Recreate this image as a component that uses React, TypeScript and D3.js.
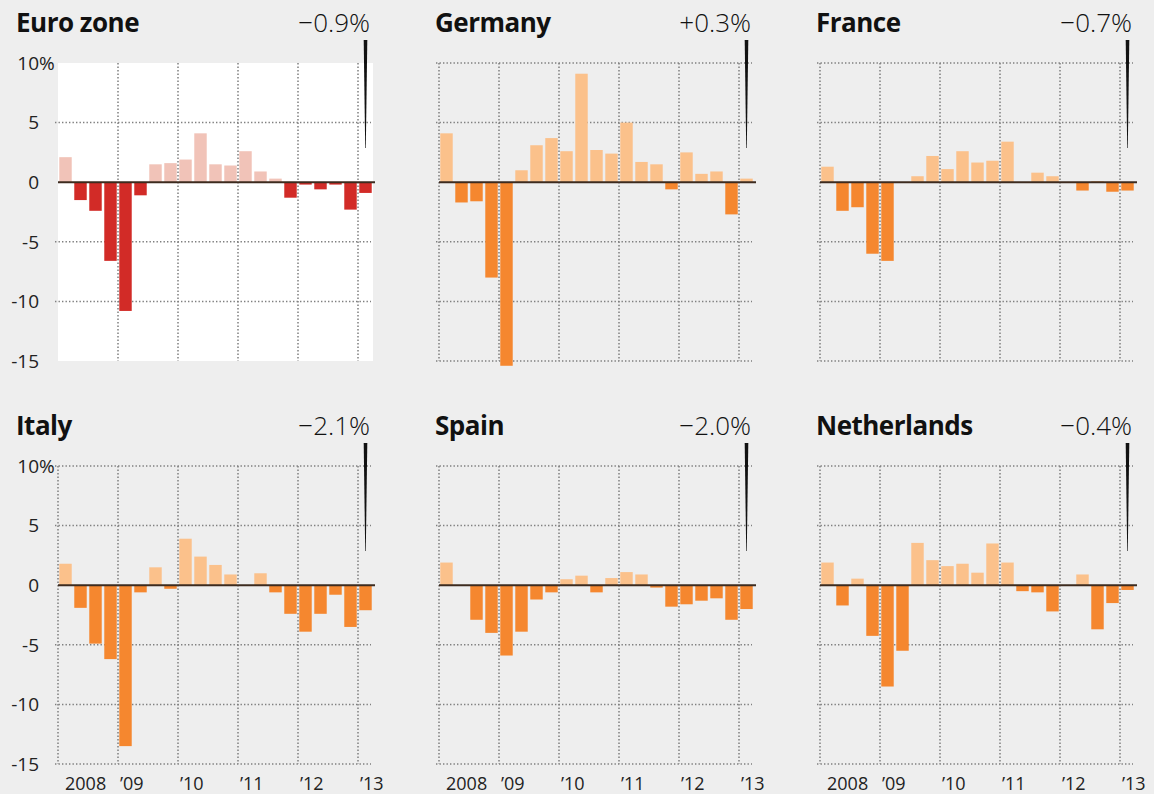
import React from 'react'
import * as d3 from 'd3'

// quarterly GDP change, annualized, 2008 Q1 to 2013 Q1
const QUARTERS = [
  '2008Q1', '2008Q2', '2008Q3', '2008Q4',
  '2009Q1', '2009Q2', '2009Q3', '2009Q4',
  '2010Q1', '2010Q2', '2010Q3', '2010Q4',
  '2011Q1', '2011Q2', '2011Q3', '2011Q4',
  '2012Q1', '2012Q2', '2012Q3', '2012Q4',
  '2013Q1',
]
const YEAR_LABELS = ['2008', '\u201909', '\u201910', '\u201911', '\u201912', '\u201913']
const Y_TICKS = [10, 5, 0, -5, -10, -15]

const EURO_ZONE = [2.1, -1.5, -2.4, -6.6, -10.8, -1.1, 1.5, 1.6, 1.9, 4.1, 1.5, 1.4, 2.6, 0.9, 0.3, -1.3, -0.2, -0.6, -0.2, -2.3, -0.9]
const GERMANY = [4.1, -1.7, -1.6, -8.0, -15.4, 1.0, 3.1, 3.7, 2.6, 9.1, 2.7, 2.4, 5.0, 1.7, 1.5, -0.6, 2.5, 0.7, 0.9, -2.7, 0.3]
const FRANCE = [1.3, -2.4, -2.1, -6.0, -6.6, 0, 0.5, 2.2, 1.1, 2.6, 1.65, 1.8, 3.4, 0, 0.8, 0.5, 0, -0.7, 0.1, -0.8, -0.7]
const ITALY = [1.8, -1.9, -4.9, -6.2, -13.5, -0.6, 1.5, -0.3, 3.9, 2.4, 1.7, 0.9, 0, 1.0, -0.6, -2.4, -3.9, -2.4, -0.8, -3.5, -2.1]
const SPAIN = [1.9, 0, -2.9, -4.0, -5.9, -3.9, -1.2, -0.6, 0.5, 0.8, -0.6, 0.6, 1.1, 0.9, -0.2, -1.8, -1.6, -1.3, -1.1, -2.9, -2.0]
const NETHERLANDS = [1.9, -1.7, 0.55, -4.25, -8.5, -5.5, 3.55, 2.1, 1.6, 1.8, 1.05, 3.5, 1.9, -0.5, -0.6, -2.2, 0, 0.9, -3.7, -1.5, -0.4]

const NAMES = ['Euro zone', 'Germany', 'France', 'Italy', 'Spain', 'Netherlands']
const HEADLINES = ['\u22120.9%', '+0.3%', '\u22120.7%', '\u22122.1%', '\u22122.0%', '\u22120.4%']
const SERIES = [EURO_ZONE, GERMANY, FRANCE, ITALY, SPAIN, NETHERLANDS]

const W = 1154
const H = 794
const PLOT_W = 315
const PLOT_H = 298
const COL_X = [58, 439, 820]
const ROW_Y = [0, 403]
const PLOT_TOP = 63
const FONT = '"Open Sans", Lato, sans-serif'

const x = d3.scaleBand<string>().domain(QUARTERS).range([0, PLOT_W]).paddingInner(0.17).paddingOuter(0.085)
const y = d3.scaleLinear().domain([-15, 10]).range([PLOT_H, 0])
const gap = (x.step() - x.bandwidth()) / 2
const yearEdges = YEAR_LABELS.map((_, k) => (x(QUARTERS[k * 4]) as number) - gap)

const dotted = { stroke: '#7f7f7f', strokeWidth: 1.5, strokeDasharray: '1.4 2.1' }

function Panel({ idx }: { idx: number }) {
  const values = SERIES[idx]
  const col = idx % 3
  const row = Math.floor(idx / 3)
  const left = COL_X[col]
  const top = ROW_Y[row]
  const euro = idx === 0
  const posColor = euro ? '#f1c3b8' : '#fbc18b'
  const negColor = euro ? '#d22b27' : '#f5872f'
  const last = QUARTERS[QUARTERS.length - 1]
  const cx = (x(last) as number) + x.bandwidth() / 2
  const hLines = euro ? [5, -5, -10] : [10, 5, -5, -10, -15]
  const vLines = euro ? yearEdges.slice(1) : yearEdges

  return (
    <g transform={`translate(${left},${top})`}>
      <text
        x={col === 0 ? -42 : -4}
        y={32}
        fontFamily={FONT}
        fontWeight={700}
        fontSize={26}
        letterSpacing={-0.5}
        fill="#111"
      >
        {NAMES[idx]}
      </text>
      <text x={PLOT_W - 3} y={32} textAnchor="end" fontFamily={FONT} fontWeight={300} fontSize={26} fill="#111">
        {HEADLINES[idx]}
      </text>
      <g transform={`translate(0,${PLOT_TOP})`}>
        {euro && <rect x={0} y={0} width={PLOT_W} height={PLOT_H} fill="#ffffff" />}
        {hLines.map(v => (
          <line key={'h' + v} x1={-3} x2={PLOT_W - 2} y1={y(v)} y2={y(v)} {...dotted} />
        ))}
        {vLines.map((vx, i) => (
          <line key={'v' + i} x1={vx} x2={vx} y1={0} y2={PLOT_H} {...dotted} />
        ))}
        {values.map((v, i) => (
          <rect
            key={QUARTERS[i]}
            x={x(QUARTERS[i])}
            width={x.bandwidth()}
            y={y(Math.max(0, v))}
            height={Math.abs(y(v) - y(0))}
            fill={v >= 0 ? posColor : negColor}
          />
        ))}
        <line x1={0} x2={PLOT_W + 2} y1={y(0)} y2={y(0)} stroke="#3d2b1f" strokeWidth={2} />
        {col === 0 &&
          Y_TICKS.map(t => (
            <g key={'t' + t}>
              <text x={-19} y={y(t)} dy="0.36em" textAnchor="end" fontFamily={FONT} fontSize={19} fill="#222">
                {t}
              </text>
              {t === 10 && (
                <text x={-19} y={y(t)} dy="0.36em" fontFamily={FONT} fontSize={19} fill="#222">
                  %
                </text>
              )}
            </g>
          ))}
        {row === 1 &&
          YEAR_LABELS.map((lab, k) => (
            <text
              key={lab}
              x={k === 0 ? yearEdges[0] + 7 : yearEdges[k] + 2}
              y={PLOT_H + 26}
              fontFamily={FONT}
              fontSize={18}
              fill="#222"
            >
              {lab}
            </text>
          ))}
      </g>
      <path
        d={`M${cx - 1.8},40 L${cx + 1.8},40 L${cx + 0.3},148 L${cx - 0.3},148 Z`}
        fill="#111"
      />
    </g>
  )
}

export default function App() {
  return (
    <svg
      width={W}
      height={H}
      viewBox={`0 0 ${W} ${H}`}
      style={{ position: 'absolute', left: 0, top: 0, background: '#eeeeee' }}
    >
      <rect width={W} height={H} fill="#eeeeee" />
      {NAMES.map((_, i) => (
        <Panel key={NAMES[i]} idx={i} />
      ))}
    </svg>
  )
}
